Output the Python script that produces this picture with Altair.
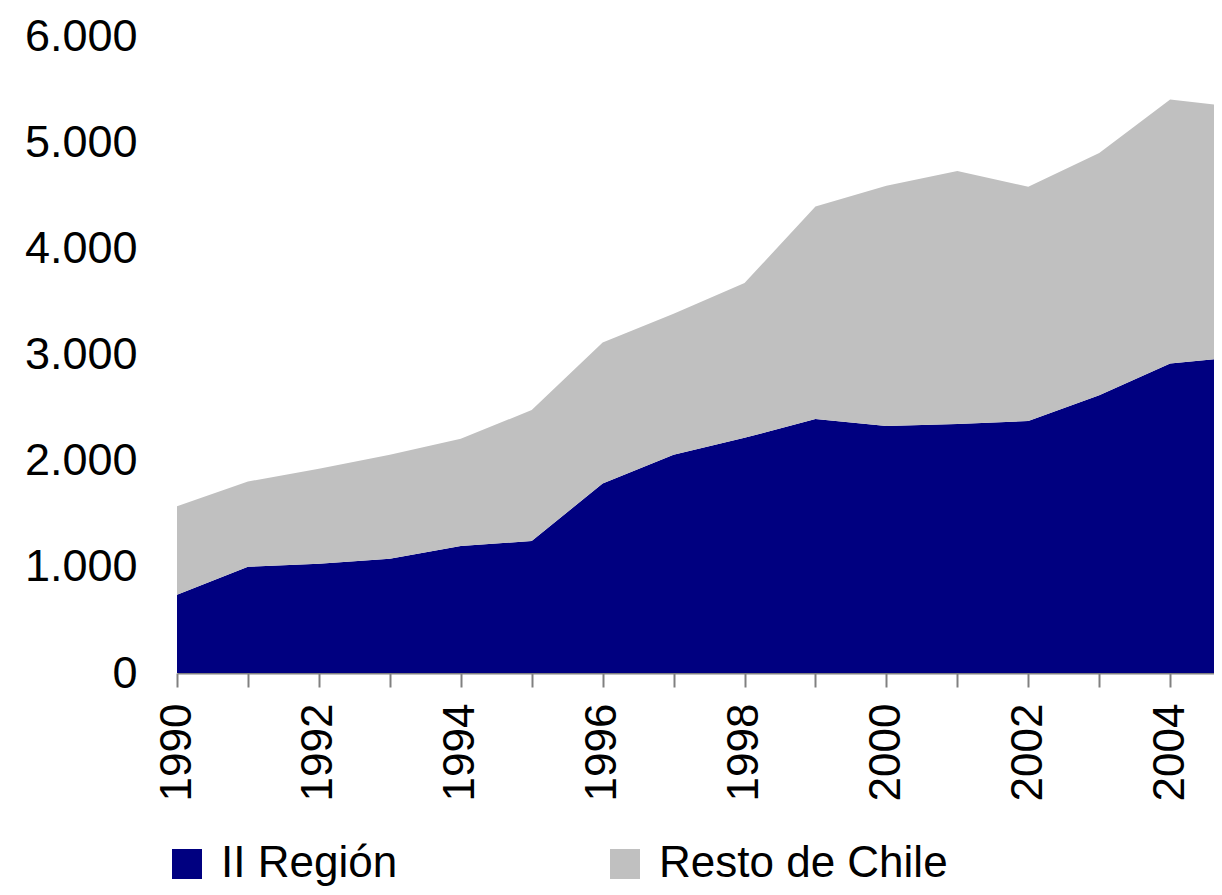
import altair as alt
import pandas as pd

years = list(range(1990, 2006))
ii_region = [738, 1000, 1028, 1075, 1196, 1243, 1785, 2056, 2215, 2393, 2327, 2346, 2374, 2617, 2916, 2980]
total = [1570, 1804, 1925, 2056, 2206, 2477, 3112, 3383, 3673, 4393, 4589, 4729, 4579, 4897, 5402, 5325]
resto = [t - i for t, i in zip(total, ii_region)]

series = ["II Región", "Resto de Chile"]
colors = ["#000080", "#C0C0C0"]
y_ticks = [0, 1000, 2000, 3000, 4000, 5000, 6000]
x_ticks = list(range(1990, 2005))

rows = []
for y, a, b in zip(years, ii_region, resto):
    rows.append({"year": y, "serie": series[0], "valor": a, "ord": 0})
    rows.append({"year": y, "serie": series[1], "valor": b, "ord": 1})
df = pd.DataFrame(rows)

FONT = "Liberation Sans"

chart = alt.Chart(df).mark_area(clip=True, strokeWidth=0).encode(
    x=alt.X("year:Q",
            scale=alt.Scale(domain=[1990, 2004.618], nice=False, zero=False),
            axis=alt.Axis(values=x_ticks, title=None, grid=False,
                          labelExpr="datum.value % 2 == 0 ? format(datum.value, 'd') : ''",
                          labelAngle=270, labelAlign="right", labelBaseline="middle",
                          labelFontSize=44, labelFont=FONT, labelColor="black",
                          labelPadding=16, labelFlush=False, labelOverlap=False,
                          tickSize=14, tickColor="#808080", tickWidth=2,
                          domainColor="#808080", domainWidth=2)),
    y=alt.Y("valor:Q", stack="zero",
            scale=alt.Scale(domain=[0, 6000], nice=False),
            axis=alt.Axis(values=y_ticks, title=None, grid=False,
                          labelExpr="replace(format(datum.value, ','), ',', '.')",
                          labelFontSize=45, labelFont=FONT, labelColor="black",
                          labelPadding=40, ticks=False, domain=False)),
    color=alt.Color("serie:N",
                    scale=alt.Scale(domain=series, range=colors),
                    legend=alt.Legend(title=None, orient="none", direction="horizontal",
                                      legendX=-12, legendY=806,
                                      symbolType="square", symbolSize=900,
                                      symbolStrokeWidth=0, symbolOpacity=1,
                                      labelFontSize=44, labelFont=FONT, labelColor="black",
                                      labelOffset=12, columnPadding=205, padding=0,
                                      labelLimit=600)),
    order=alt.Order("ord:Q", sort="ascending"),
).properties(
    width=1037,
    height=637,
    autosize=alt.AutoSizeParams(type="none"),
    padding={"left": 169, "top": 28, "right": 0, "bottom": 214},
).configure_view(stroke=None)

chart.save("out.html", embed_options={"renderer": "svg", "actions": False})
